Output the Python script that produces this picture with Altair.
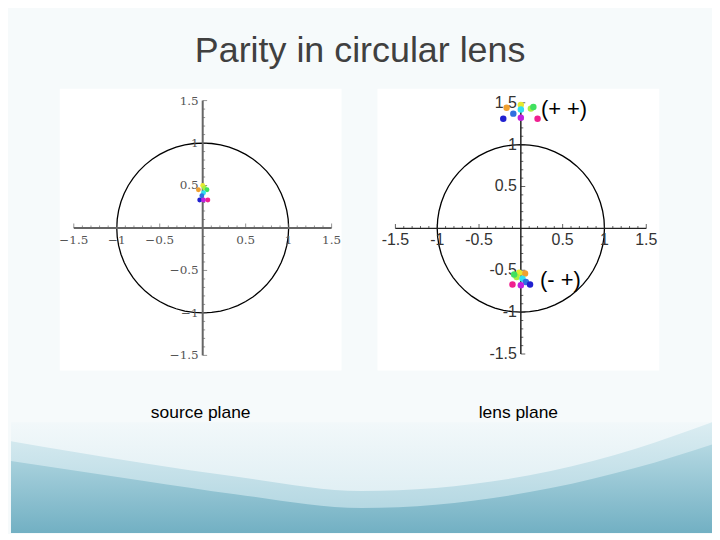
import altair as alt
import numpy as np
import pandas as pd

# ---------------- data ----------------
names = ["orange", "yellow", "chartreuse", "green", "cyan", "blue", "darkblue", "purple", "pink"]
colors = ["#f0a030", "#e6ea30", "#a8f040", "#40e060", "#30e0f0", "#3070e0", "#2020d0", "#c020e0", "#f02090"]

# source plane
src_x = [-0.05, 0.0, 0.02, 0.05, 0.01, -0.01, -0.035, 0.01, 0.06]
src_y = [0.45, 0.50, 0.47, 0.45, 0.415, 0.38, 0.33, 0.33, 0.33]

# lens plane, (+ +) image
plus_x = [-0.17, 0.0, 0.12, 0.15, 0.0, -0.09, -0.21, 0.0, 0.20]
plus_y = [1.44, 1.475, 1.43, 1.45, 1.42, 1.37, 1.31, 1.32, 1.31]

# lens plane, (- +) image
minus_x = [0.05, -0.02, -0.05, -0.08, 0.02, 0.06, 0.11, 0.0, -0.10]
minus_y = [-0.54, -0.53, -0.58, -0.55, -0.60, -0.64, -0.67, -0.68, -0.67]

ring_radius = 1.0
major_ticks = [-1.5, -1.0, -0.5, 0.5, 1.0, 1.5]
major_labels_left = ["\u22121.5", "\u22121", "\u22120.5", "0.5", "1", "1.5"]
major_labels_right = ["-1.5", "-1", "-0.5", "0.5", "1", "1.5"]
minor_ticks = [round(v / 10, 1) for v in range(-15, 16) if v % 5 != 0]

annot_text = ["(+ +)", "(- +)"]
annot_x = [0.24, 0.23]
annot_y = [1.43, -0.62]

# decorative slide background waves (fractions of the footer strip)
wave_x = [0.0, 0.19, 0.32, 0.5, 0.77, 0.89, 1.0]
wave_light = [0.83, 0.63, 0.51, 0.38, 0.56, 0.76, 1.0]
wave_dark = [0.65, 0.47, 0.35, 0.225, 0.405, 0.586, 0.80]

color_scale = alt.Scale(domain=names, range=colors)


def panel(px, py, xdom, ydom, labels, font, fsize, lab_color, axis_color, axis_w,
          dot_size, title, annot=False):
    xs = alt.Scale(domain=xdom, nice=False, zero=False)
    ys = alt.Scale(domain=ydom, nice=False, zero=False)
    X = lambda f: alt.X(f, type="quantitative", scale=xs, axis=None)
    Y = lambda f: alt.Y(f, type="quantitative", scale=ys, axis=None)

    t = np.linspace(0, 2 * np.pi, 61)
    ring = pd.DataFrame({"i": np.arange(len(t)),
                         "x": ring_radius * np.cos(t),
                         "y": ring_radius * np.sin(t)})
    circle = alt.Chart(ring).mark_line(color="black", strokeWidth=1.3).encode(
        x=X("x"), y=Y("y"), order="i:Q")

    axes_df = pd.DataFrame({"x": [-1.5, 0.0], "x2": [1.5, 0.0],
                            "y": [0.0, -1.5], "y2": [0.0, 1.5]})
    axes = alt.Chart(axes_df).mark_rule(color=axis_color, strokeWidth=axis_w).encode(
        x=X("x"), x2="x2", y=Y("y"), y2="y2")

    mt = pd.DataFrame({"v": minor_ticks, "z": 0.0})
    Mt = pd.DataFrame({"v": major_ticks, "z": 0.0, "lab": labels})
    xminor = alt.Chart(mt).mark_tick(orient="vertical", size=2.5, thickness=1,
                                     color=axis_color, yOffset=-1.2).encode(x=X("v"), y=Y("z"))
    yminor = alt.Chart(mt).mark_tick(orient="horizontal", size=2.5, thickness=1,
                                     color=axis_color, xOffset=1.2).encode(x=X("z"), y=Y("v"))
    xmajor = alt.Chart(Mt).mark_tick(orient="vertical", size=4.5, thickness=1,
                                     color=axis_color, yOffset=-2.2).encode(x=X("v"), y=Y("z"))
    ymajor = alt.Chart(Mt).mark_tick(orient="horizontal", size=4.5, thickness=1,
                                     color=axis_color, xOffset=2.2).encode(x=X("z"), y=Y("v"))
    xlab = alt.Chart(Mt).mark_text(font=font, fontSize=fsize, color=lab_color,
                                   baseline="middle", dy=12).encode(
        x=X("v"), y=Y("z"), text="lab:N")
    ylab = alt.Chart(Mt).mark_text(font=font, fontSize=fsize, color=lab_color,
                                   align="right", baseline="middle", dx=-4).encode(
        x=X("z"), y=Y("v"), text="lab:N")

    layers = [circle, axes, xminor, yminor, xmajor, ymajor, xlab, ylab]
    for xx, yy in zip(px, py):
        d = pd.DataFrame({"x": xx, "y": yy, "name": names})
        layers.append(alt.Chart(d).mark_circle(size=dot_size, opacity=1).encode(
            x=X("x"), y=Y("y"),
            color=alt.Color("name:N", scale=color_scale, legend=None)))
    if annot:
        ad = pd.DataFrame({"x": annot_x, "y": annot_y, "t": annot_text})
        layers.append(alt.Chart(ad).mark_text(font="Liberation Sans", fontSize=22,
                                              color="black", align="left",
                                              baseline="middle").encode(
            x=X("x"), y=Y("y"), text="t:N"))
    return alt.layer(*layers).properties(
        width=283, height=283,
        view=alt.ViewBackground(fill="white", stroke=None),
        title=alt.TitleParams(title, orient="bottom", anchor="middle", offset=34,
                              fontSize=17.5, font="Liberation Sans",
                              fontWeight="normal", color="black"))


left = panel([src_x], [src_y], [-1.663, 1.616], [-1.679, 1.639],
             major_labels_left, "DejaVu Serif", 12, "#555555", "#666666", 2,
             24, "source plane")
right = panel([plus_x, minus_x], [plus_y, minus_y], [-1.715, 1.655], [-1.698, 1.667],
              major_labels_right, "Liberation Sans", 16, "#333333", "#222222", 1.5,
              42, "lens plane", annot=True)

spacer = alt.Chart(pd.DataFrame({"a": [0]})).mark_point(opacity=0).encode(
    x=alt.value(0), y=alt.value(0)).properties(
    width=12, height=283, view=alt.ViewBackground(fill=None, stroke=None))

top_row = alt.hconcat(spacer, left, right, spacing=36)

# footer strip with the slide's blue waves
wdf = pd.DataFrame({"x": wave_x, "light": wave_light, "dark": wave_dark,
                    "top": [1.0] * len(wave_x), "bot": [0.0] * len(wave_x)})
wx = alt.X("x:Q", scale=alt.Scale(domain=[0, 1], nice=False), axis=None)
wy_scale = alt.Scale(domain=[0, 1], nice=False)


def grad(c0, c1):
    return alt.LinearGradient(gradient="linear", x1=0, x2=0, y1=0, y2=1,
                              stops=[alt.GradientStop(color=c0, offset=0),
                                     alt.GradientStop(color=c1, offset=1)])


bg = alt.Chart(wdf).mark_area(color=grad("#f2f8fa", "#d6eaf0"), interpolate="monotone").encode(
    x=wx, y=alt.Y("top:Q", scale=wy_scale, axis=None), y2="bot:Q")
light = alt.Chart(wdf).mark_area(color=grad("#dbedf2", "#aad2de"), interpolate="monotone").encode(
    x=wx, y=alt.Y("light:Q", scale=wy_scale, axis=None), y2="bot:Q")
dark = alt.Chart(wdf).mark_area(color=grad("#b4d8e2", "#72b0c3"), interpolate="monotone").encode(
    x=wx, y=alt.Y("dark:Q", scale=wy_scale, axis=None), y2="bot:Q")
footer = alt.layer(bg, light, dark).properties(
    width=704, height=111, view=alt.ViewBackground(fill=None, stroke=None))

chart = alt.vconcat(top_row, footer, spacing=0).properties(
    title=alt.TitleParams("Parity in circular lens", anchor="middle", fontSize=36,
                          font="Liberation Sans", fontWeight="normal",
                          color="#404040", offset=16),
    padding={"left": 0, "top": 24, "right": 0, "bottom": 0},
    background="#f6fafb",
).configure_view(stroke=None)

chart.save("out.html", embed_options={"renderer": "svg", "actions": False})
